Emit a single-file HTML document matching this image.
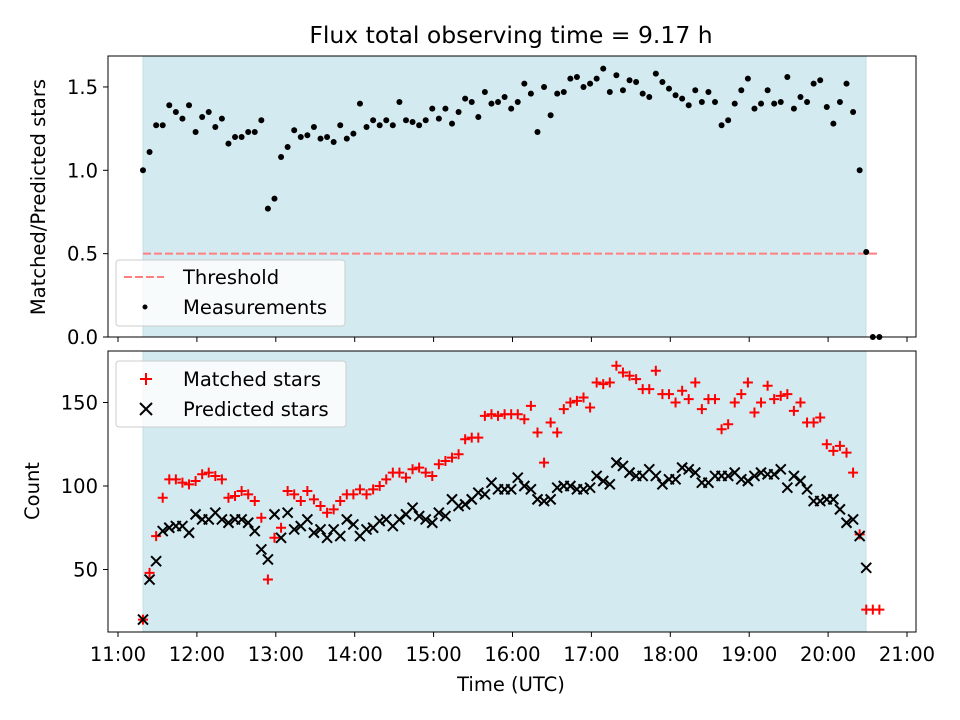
<!DOCTYPE html>
<html><head><meta charset="utf-8"><style>
body{margin:0;background:#fff;}
svg{display:block;font-family:"DejaVu Sans","Liberation Sans",sans-serif;}
</style></head><body>
<svg id="fig" width="960" height="720" viewBox="0 0 960 720"></svg>
<script>
const startHour = 11 + 19/60;
const stepMinutes = 5;
const shadeStart = 11.317, shadeEnd = 20.48;
const threshold = 0.5;
const ratio = [1.00,1.11,1.27,1.27,1.39,1.35,1.31,1.39,1.23,1.32,
1.35,1.26,1.31,1.16,1.20,1.20,1.23,1.23,1.30,0.77,
0.83,1.08,1.14,1.24,1.20,1.21,1.26,1.19,1.20,1.17,
1.27,1.19,1.22,1.40,1.26,1.30,1.27,1.30,1.27,1.41,
1.30,1.29,1.27,1.30,1.37,1.31,1.37,1.28,1.35,1.43,
1.41,1.32,1.47,1.40,1.41,1.44,
1.37,1.41,1.52,1.46,1.23,1.50,1.33,1.46,1.47,1.55,1.56,1.50,1.52,1.55,1.61,1.47,1.57,1.48,1.54,1.53,
1.46,1.44,1.58,1.53,1.49,1.45,1.43,1.39,1.48,1.41,1.47,1.41,1.27,1.30,1.40,1.48,1.55,1.37,1.40,1.48,
1.40,1.41,1.56,1.37,1.44,1.41,1.52,1.54,1.38,1.28,1.41,1.52,1.35,1.00,0.51,0,0];
const predicted = [20,44,55,73,75,76,76,72,83,80,80,84,80,78,80,80,78,73,62,56,83,69,84,74,76,80,72,74,69,74,70,80,77,70,74,75,79,80,
76,80,83,87,82,80,78,84,82,92,88,89,92,96,95,102,98,98,98,105,100,98,92,91,92,99,100,100,98,98,99,106,103,101,114,112,108,106,106,110,106,101,104,104,111,110,108,102,102,106,106,106,108,104,103,106,108,107,107,110,99,106,103,98,91,91,92,92,86,78,80,70,51,null,null];
const matched = [20,48,70,93,104,104,102,101,103,107,108,106,104,93,94,97,95,91,81,44,69,75,97,95,91,97,92,88,84,86,91,95,95,98,95,98,100,104,
108,108,105,110,111,108,106,113,115,117,119,128,129,129,142,143,142,143,143,143,140,148,132,114,138,132,146,150,151,153,147,162,161,162,172,168,166,164,158,158,169,155,155,150,157,152,162,146,152,152,134,137,150,155,162,144,150,160,152,154,155,145,150,138,138,141,125,121,124,120,108,71,26,26,26];
const xTicks = ["11:00","12:00","13:00","14:00","15:00","16:00","17:00","18:00","19:00","20:00","21:00"];
const yTopTicks = [0.0,0.5,1.0,1.5];
const yBotTicks = [50,100,150];

const NS="http://www.w3.org/2000/svg";
const svg=document.getElementById('fig');
function mk(tag,attrs,parent){const e=document.createElementNS(NS,tag);for(const k in attrs)e.setAttribute(k,attrs[k]);(parent||svg).appendChild(e);return e;}
const L=108,R=916,FS=19.5;
const xs=h=>118+(h-11)*78.9;
const yTop=v=>337-v*166.7;
const yBot=v=>486-(v-100)*1.67;
const times=ratio.map((_,i)=>startHour+i*stepMinutes/60);

let t=mk('text',{x:511,y:43,'text-anchor':'middle','font-size':23.5});
t.textContent='Flux total observing time = 9.17 h';



function panel(top,bottom,name){
  const g=mk('g',{});
  
  
  const sh=mk('rect',{x:xs(shadeStart),y:top,width:xs(shadeEnd)-xs(shadeStart),height:bottom-top,fill:'#d4eaf1',stroke:'#c3dfe9','stroke-width':1},g);
  
  
  xTicks.forEach((lab,i)=>{const x=xs(11+i);mk('line',{x1:x,x2:x,y1:bottom,y2:bottom+5,stroke:'#000','stroke-width':1},g);});
  return g;
}
function frame(g,top,bottom){mk('rect',{x:L,y:top,width:R-L,height:bottom-top,fill:'none',stroke:'#000','stroke-width':1},g);}

const gT=panel(56,337,'ratio-panel');
const th=mk('line',{x1:xs(startHour),x2:xs(times[times.length-1]),y1:yTop(threshold),y2:yTop(threshold),stroke:'#ff7f7f','stroke-width':2,'stroke-dasharray':'8,3'},gT);


ratio.forEach((v,i)=>{
  const c=mk('circle',{cx:xs(times[i]),cy:yTop(v),r:3,fill:'#000'},gT);
  
  
});
yTopTicks.forEach(v=>{const y=yTop(v);mk('line',{x1:L-5,x2:L,y1:y,y2:y,stroke:'#000'},gT);
  const tt=mk('text',{x:L-10,y:y+7,'text-anchor':'end','font-size':FS},gT);tt.textContent=v.toFixed(1);
  
  });
frame(gT,56,337);
let yl=mk('text',{transform:'translate(45,197) rotate(-90)','text-anchor':'middle','font-size':FS});
yl.textContent='Matched/Predicted stars';


const lg1=mk('g',{});


mk('rect',{x:116,y:260,width:229,height:66,rx:3,fill:'#fff','fill-opacity':0.8,stroke:'#ccc'},lg1);
mk('line',{x1:124,x2:164,y1:277,y2:277,stroke:'#ff7f7f','stroke-width':2,'stroke-dasharray':'8,3'},lg1);
let e=mk('text',{x:183,y:284,'font-size':FS},lg1);e.textContent='Threshold';

mk('circle',{cx:145,cy:307,r:2.5,fill:'#000'},lg1);
e=mk('text',{x:183,y:314,'font-size':FS},lg1);e.textContent='Measurements';


const gB=panel(351,632,'count-panel');
matched.forEach((v,i)=>{if(v==null)return;const x=xs(times[i]),y=yBot(v);
  const p=mk('path',{d:`M${x-5},${y}H${x+5}M${x},${y-5}V${y+5}`,stroke:'#ff0000','stroke-width':2,fill:'none'},gB);
  
  });
predicted.forEach((v,i)=>{if(v==null)return;const x=xs(times[i]),y=yBot(v);
  const p=mk('path',{d:`M${x-5},${y-5}L${x+5},${y+5}M${x-5},${y+5}L${x+5},${y-5}`,stroke:'#000','stroke-width':2,fill:'none'},gB);
  
  });
yBotTicks.forEach(v=>{const y=yBot(v);mk('line',{x1:L-5,x2:L,y1:y,y2:y,stroke:'#000'},gB);
  const tt=mk('text',{x:L-10,y:y+7,'text-anchor':'end','font-size':FS},gB);tt.textContent=v;
  
  });
xTicks.forEach((lab,i)=>{const tt=mk('text',{x:xs(11+i),y:661,'text-anchor':'middle','font-size':FS},gB);tt.textContent=lab;
  
  });
frame(gB,351,632);
yl=mk('text',{transform:'translate(39,491) rotate(-90)','text-anchor':'middle','font-size':FS});
yl.textContent='Count';


let xl=mk('text',{x:511,y:691,'text-anchor':'middle','font-size':FS});
xl.textContent='Time (UTC)';


const lg2=mk('g',{});


mk('rect',{x:116,y:361,width:230,height:66,rx:3,fill:'#fff','fill-opacity':0.8,stroke:'#ccc'},lg2);
mk('path',{d:'M140,379H152M146,373V385',stroke:'#ff0000','stroke-width':2},lg2);
e=mk('text',{x:183,y:386,'font-size':FS},lg2);e.textContent='Matched stars';

mk('path',{d:'M140,403L152,415M140,415L152,403',stroke:'#000','stroke-width':2},lg2);
e=mk('text',{x:183,y:416,'font-size':FS},lg2);e.textContent='Predicted stars';

</script>
</body></html>
